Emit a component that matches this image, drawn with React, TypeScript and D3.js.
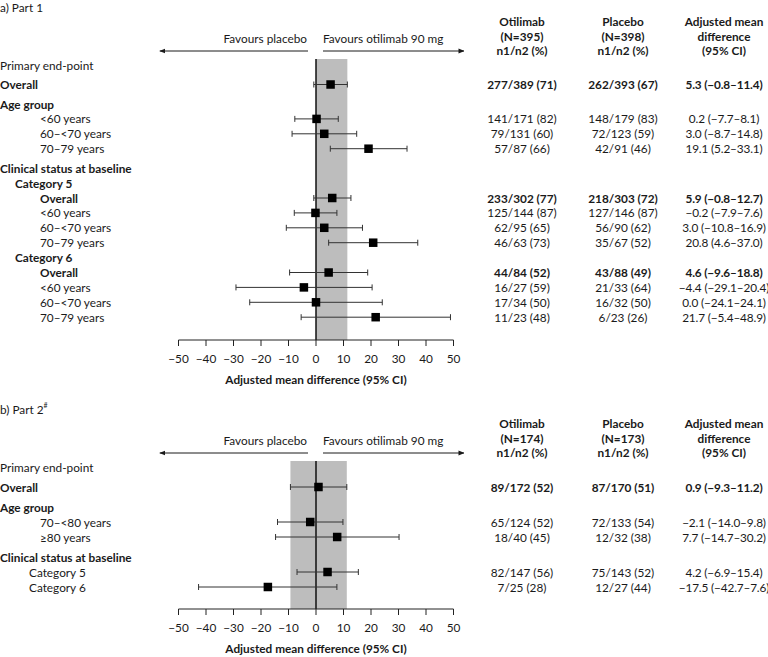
import React from 'react';
import * as d3 from 'd3';

const FONT = 'Lato, "Noto Sans", sans-serif';
const FS = 11.8;

// ---------- Part 1 data ----------
const p1Title = 'a) Part 1';
const p1Labels = ['Primary end-point', 'Overall', 'Age group', '<60 years', '60–<70 years', '70–79 years', 'Clinical status at baseline', 'Category 5', 'Overall', '<60 years', '60–<70 years', '70–79 years', 'Category 6', 'Overall', '<60 years', '60–<70 years', '70–79 years'];
const p1Levels = [0, 0, 0, 2, 2, 2, 0, 1, 2, 2, 2, 2, 1, 2, 2, 2, 2];
const p1Bold = [false, true, true, false, false, false, true, true, true, false, false, false, true, true, false, false, false];
const p1Est: (number | null)[] = [null, 5.3, null, 0.2, 3.0, 19.1, null, null, 5.9, -0.2, 3.0, 20.8, null, 4.6, -4.4, 0.0, 21.7];
const p1Lo: (number | null)[] = [null, -0.8, null, -7.7, -8.7, 5.2, null, null, -0.8, -7.9, -10.8, 4.6, null, -9.6, -29.1, -24.1, -5.4];
const p1Hi: (number | null)[] = [null, 11.4, null, 8.1, 14.8, 33.1, null, null, 12.7, 7.6, 16.9, 37.0, null, 18.8, 20.4, 24.1, 48.9];
const p1Otilimab: (string | null)[] = [null, '277/389 (71)', null, '141/171 (82)', '79/131 (60)', '57/87 (66)', null, null, '233/302 (77)', '125/144 (87)', '62/95 (65)', '46/63 (73)', null, '44/84 (52)', '16/27 (59)', '17/34 (50)', '11/23 (48)'];
const p1Placebo: (string | null)[] = [null, '262/393 (67)', null, '148/179 (83)', '72/123 (59)', '42/91 (46)', null, null, '218/303 (72)', '127/146 (87)', '56/90 (62)', '35/67 (52)', null, '43/88 (49)', '21/33 (64)', '16/32 (50)', '6/23 (26)'];
const p1N = ['(N=395)', '(N=398)'];
const p1Shade = [0, 11.4];

// ---------- Part 2 data ----------
const p2Title = 'b) Part 2';
const p2Labels = ['Primary end-point', 'Overall', 'Age group', '70–<80 years', '≥80 years', 'Clinical status at baseline', 'Category 5', 'Category 6'];
const p2Levels = [0, 0, 0, 2, 2, 0, 3, 3];
const p2Bold = [false, true, true, false, false, true, false, false];
const p2Est: (number | null)[] = [null, 0.9, null, -2.1, 7.7, null, 4.2, -17.5];
const p2Lo: (number | null)[] = [null, -9.3, null, -14.0, -14.7, null, -6.9, -42.7];
const p2Hi: (number | null)[] = [null, 11.2, null, 9.8, 30.2, null, 15.4, 7.6];
const p2Otilimab: (string | null)[] = [null, '89/172 (52)', null, '65/124 (52)', '18/40 (45)', null, '82/147 (56)', '7/25 (28)'];
const p2Placebo: (string | null)[] = [null, '87/170 (51)', null, '72/133 (54)', '12/32 (38)', null, '75/143 (52)', '12/27 (44)'];
const p2N = ['(N=174)', '(N=173)'];
const p2Shade = [-9.3, 11.2];

const xTicks = [-50, -40, -30, -20, -10, 0, 10, 20, 30, 40, 50];
const xDomain = [-50, 50];

const fmt = d3.format('.1f');
const diffText = (e: number, l: number, h: number) => `${fmt(e)} (${fmt(l)}–${fmt(h)})`;

const INDENT: Record<number, number> = { 0: 0, 1: 15, 2: 40, 3: 29 };

type PanelProps = {
  title: string;
  sup?: string;
  labels: string[];
  levels: number[];
  bold: boolean[];
  est: (number | null)[];
  lo: (number | null)[];
  hi: (number | null)[];
  oti: (string | null)[];
  pla: (string | null)[];
  nHdr: string[];
  shade: number[];
  top: number;
  axisY: number;
  headerGap: number;
  gap: number;
  markerId: string;
};

function Panel(p: PanelProps) {
  const x = d3.scaleLinear().domain(xDomain).range([178.5, 453.5]);
  const T = p.top;
  const titleY = T + 1;
  const favY = T + 32;
  const arrowY = T + 45;
  const hdrY = [T + 15, T + 30, T + 44];
  const firstY = T + 59;
  const shadeTop = T + 53;
  const colX = [522, 623, 724];
  const ys: number[] = [];
  p.labels.forEach((_, i) => {
    if (i === 0) ys.push(firstY);
    else ys.push(ys[i - 1] + (p.levels[i] === 0 ? p.headerGap : p.gap));
  });
  const tc = '#1a1a1a';
  const sq = 8.5;
  return (
    <g fontFamily={FONT} fontSize={FS} fill={tc}>
      <text x={0} y={titleY} dominantBaseline="central">
        {p.title}
        {p.sup ? <tspan fontSize={7} dy={-4}>{p.sup}</tspan> : null}
      </text>
      <text x={x(0) - 9} y={favY} textAnchor="end" dominantBaseline="central">Favours placebo</text>
      <text x={x(0) + 7} y={favY} dominantBaseline="central">Favours otilimab 90 mg</text>
      <line x1={x(0) - 8} x2={x(-57.5) + 2} y1={arrowY} y2={arrowY} stroke={tc} strokeWidth={1} markerEnd={`url(#${p.markerId})`} />
      <line x1={x(0) + 7} x2={x(54.5) - 2} y1={arrowY} y2={arrowY} stroke={tc} strokeWidth={1} markerEnd={`url(#${p.markerId})`} />
      {[['Otilimab', p.nHdr[0], 'n1/n2 (%)'], ['Placebo', p.nHdr[1], 'n1/n2 (%)'], ['Adjusted mean', 'difference', '(95% CI)']].map((lines, c) =>
        lines.map((t, k) => (
          <text key={`h${c}${k}`} x={colX[c]} y={hdrY[k]} textAnchor="middle" dominantBaseline="central" fontWeight={700}>{t}</text>
        ))
      )}
      <rect x={x(p.shade[0])} width={x(p.shade[1]) - x(p.shade[0])} y={shadeTop} height={p.axisY - shadeTop} fill="#bdbdbd" />
      <line x1={x(0)} x2={x(0)} y1={shadeTop} y2={p.axisY} stroke="#111" strokeWidth={1.5} />
      {p.labels.map((lab, i) => (
        <text key={`l${i}`} x={INDENT[p.levels[i]]} y={ys[i]} dominantBaseline="central" fontWeight={p.bold[i] ? 700 : 400}>{lab}</text>
      ))}
      {p.labels.map((_, i) => {
        const e = p.est[i], l = p.lo[i], h = p.hi[i];
        if (e === null || l === null || h === null) return null;
        const y = ys[i];
        return (
          <g key={`m${i}`}>
            <line x1={x(l)} x2={x(h)} y1={y} y2={y} stroke="#333" strokeWidth={1} />
            <line x1={x(l)} x2={x(l)} y1={y - 3} y2={y + 3} stroke="#333" strokeWidth={1} />
            <line x1={x(h)} x2={x(h)} y1={y - 3} y2={y + 3} stroke="#333" strokeWidth={1} />
            <rect x={x(e) - sq / 2} y={y - sq / 2} width={sq} height={sq} fill="#000" />
          </g>
        );
      })}
      {p.labels.map((_, i) => {
        const e = p.est[i], l = p.lo[i], h = p.hi[i];
        if (e === null || l === null || h === null) return null;
        const w = p.bold[i] ? 700 : 400;
        return (
          <g key={`t${i}`} fontWeight={w}>
            <text x={colX[0]} y={ys[i]} textAnchor="middle" dominantBaseline="central">{p.oti[i]}</text>
            <text x={colX[1]} y={ys[i]} textAnchor="middle" dominantBaseline="central">{p.pla[i]}</text>
            <text x={colX[2]} y={ys[i]} textAnchor="middle" dominantBaseline="central" letterSpacing={-0.15}>{diffText(e, l, h)}</text>
          </g>
        );
      })}
      <line x1={x(xDomain[0])} x2={x(xDomain[1])} y1={p.axisY} y2={p.axisY} stroke="#222" strokeWidth={1} />
      {xTicks.map((t) => (
        <g key={`x${t}`}>
          <line x1={x(t)} x2={x(t)} y1={p.axisY} y2={p.axisY + 6} stroke="#222" strokeWidth={1} />
          <text x={x(t)} y={p.axisY + 18.5} textAnchor="middle" dominantBaseline="central">{d3.format('d')(t)}</text>
        </g>
      ))}
      <text x={x(0)} y={p.axisY + 39.5} textAnchor="middle" dominantBaseline="central" fontWeight={700}>Adjusted mean difference (95% CI)</text>
    </g>
  );
}

export default function App() {
  return (
    <svg width={768} height={657} style={{ position: 'absolute', left: 0, top: 0, background: '#fff' }}>
      <defs>
        <marker id="arrA" viewBox="0 0 10 10" refX={9} refY={5} markerWidth={6} markerHeight={6} orient="auto" markerUnits="userSpaceOnUse">
          <path d="M0,1 L10,5 L0,9 Z" fill="#1a1a1a" />
        </marker>
        <marker id="arrB" viewBox="0 0 10 10" refX={9} refY={5} markerWidth={6} markerHeight={6} orient="auto" markerUnits="userSpaceOnUse">
          <path d="M0,1 L10,5 L0,9 Z" fill="#1a1a1a" />
        </marker>
      </defs>
      <rect width={768} height={657} fill="#fff" />
      <Panel title={p1Title} labels={p1Labels} levels={p1Levels} bold={p1Bold} est={p1Est} lo={p1Lo} hi={p1Hi}
        oti={p1Otilimab} pla={p1Placebo} nHdr={p1N} shade={p1Shade} top={6} axisY={340} headerGap={19.5} gap={14.9} markerId="arrA" />
      <Panel title={p2Title} sup="#" labels={p2Labels} levels={p2Levels} bold={p2Bold} est={p2Est} lo={p2Lo} hi={p2Hi}
        oti={p2Otilimab} pla={p2Placebo} nHdr={p2N} shade={p2Shade} top={408} axisY={609} headerGap={20} gap={15} markerId="arrB" />
    </svg>
  );
}
